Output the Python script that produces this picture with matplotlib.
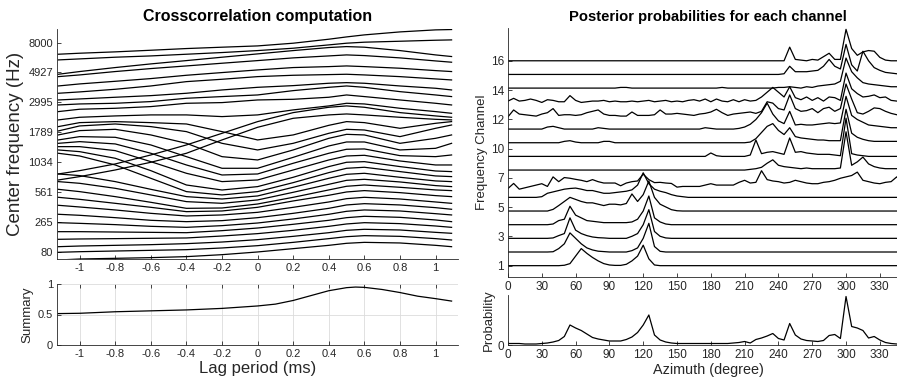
import numpy as np
import matplotlib.pyplot as plt

plt.rcParams['font.family'] = ['Liberation Sans', 'DejaVu Sans']

# ---- left panel: cross-correlation traces (channel units) ----
lags = [-1.12, -1.0, -0.8, -0.6, -0.4, -0.2, 0.0, 0.2, 0.4, 0.5, 0.6, 0.8, 1.0, 1.09]
xcorr_traces = [
    [-0.15, 0.00, 0.10, 0.20, 0.35, 0.64, 1.04, 1.53, 2.02, 2.32, 2.46, 2.37, 2.02, 1.82],
    [0.99, 1.08, 1.18, 1.28, 1.38, 1.63, 1.97, 2.46, 3.01, 3.30, 3.45, 3.35, 3.01, 2.81],
    [1.82, 1.92, 2.02, 2.12, 2.27, 2.51, 2.86, 3.35, 3.89, 4.24, 4.39, 4.29, 3.94, 3.80],
    [2.91, 2.96, 3.01, 3.06, 3.11, 3.40, 3.75, 4.24, 4.83, 5.18, 5.37, 5.23, 4.88, 4.68],
    [4.04, 4.04, 3.99, 3.94, 3.89, 4.19, 4.58, 5.13, 5.72, 6.11, 6.31, 6.16, 5.77, 5.52],
    [5.37, 5.27, 5.08, 4.83, 4.68, 4.93, 5.32, 5.92, 6.61, 7.05, 7.25, 7.10, 6.70, 6.51],
    [6.61, 6.46, 6.11, 5.72, 5.52, 5.67, 6.11, 6.75, 7.49, 7.99, 8.18, 7.99, 7.59, 7.35],
    [7.94, 7.69, 7.25, 6.75, 6.36, 6.51, 6.90, 7.64, 8.43, 8.92, 9.12, 8.87, 8.43, 8.23],
    [9.12, 8.82, 8.23, 7.64, 7.00, 7.10, 7.64, 8.58, 9.42, 9.91, 10.11, 9.81, 9.37, 9.22],
    [10.30, 9.96, 9.22, 8.38, 7.49, 7.54, 8.13, 9.12, 10.21, 10.75, 10.94, 10.60, 10.21, 10.11],
    [11.44, 11.19, 10.45, 9.47, 8.48, 8.23, 8.73, 9.86, 11.04, 11.63, 11.78, 11.39, 10.85, 10.70],
    [12.57, 12.33, 11.44, 10.30, 9.22, 8.87, 9.32, 10.60, 11.93, 12.52, 12.67, 12.08, 11.54, 11.44],
    [15.63, 15.23, 13.90, 11.93, 9.96, 9.47, 9.96, 11.29, 12.77, 13.41, 13.56, 12.92, 12.28, 12.18],
    [16.12, 15.87, 14.89, 13.06, 10.94, 10.20, 10.70, 12.08, 13.66, 14.30, 14.39, 13.66, 13.01, 12.92],
    [16.61, 16.61, 16.02, 14.39, 12.67, 11.44, 11.68, 13.16, 14.64, 15.23, 15.33, 14.49, 13.90, 13.90],
    [17.10, 17.35, 17.01, 15.63, 13.90, 12.42, 12.57, 14.15, 15.63, 16.22, 16.27, 15.28, 15.13, 15.38],
    [17.60, 18.09, 17.99, 16.86, 15.13, 13.41, 13.41, 15.03, 16.71, 17.30, 17.30, 16.12, 16.36, 17.10],
    [18.34, 18.98, 19.17, 18.34, 17.10, 15.13, 14.64, 16.12, 17.84, 18.43, 18.34, 17.10, 17.84, 18.34],
    [18.93, 19.67, 19.96, 19.57, 18.83, 17.10, 16.12, 17.10, 18.58, 19.17, 19.07, 18.09, 19.32, 19.81],
    [19.57, 20.16, 20.31, 20.16, 19.96, 18.83, 17.60, 18.34, 19.76, 20.31, 20.16, 19.32, 20.06, 20.31],
    [11.68, 12.18, 13.16, 14.30, 15.63, 17.60, 19.47, 20.80, 21.30, 21.44, 21.30, 20.95, 20.65, 20.56],
    [12.57, 13.06, 14.05, 15.38, 16.86, 18.58, 20.31, 21.64, 22.43, 22.63, 22.43, 21.64, 21.15, 20.95],
    [20.56, 20.95, 21.15, 21.30, 21.30, 21.05, 21.30, 22.04, 22.63, 23.02, 22.92, 22.28, 21.79, 21.54],
    [21.79, 22.14, 22.28, 22.53, 23.02, 23.12, 23.51, 23.61, 23.91, 24.25, 24.01, 23.51, 23.02, 22.77],
    [22.77, 22.92, 23.02, 23.27, 23.76, 24.01, 24.25, 24.89, 25.38, 25.58, 25.38, 24.74, 24.25, 24.01],
    [23.51, 23.66, 23.91, 24.15, 24.50, 24.99, 25.38, 25.63, 25.98, 26.07, 25.98, 25.58, 25.24, 24.99],
    [24.50, 24.70, 25.09, 25.58, 26.22, 26.57, 26.96, 27.16, 27.26, 27.31, 27.21, 26.96, 26.62, 26.47],
    [25.58, 25.88, 26.27, 26.67, 27.16, 27.56, 27.95, 28.30, 28.44, 28.54, 28.44, 28.20, 27.85, 27.71],
    [26.96, 27.21, 27.71, 28.15, 28.54, 28.94, 29.33, 29.73, 30.02, 30.17, 30.07, 29.73, 29.28, 29.09],
    [27.31, 27.71, 28.30, 28.84, 29.33, 29.83, 30.32, 30.81, 31.26, 31.40, 31.31, 30.81, 30.17, 29.93],
    [29.43, 29.58, 29.83, 30.02, 30.27, 30.52, 30.81, 31.16, 31.65, 31.90, 32.05, 32.19, 32.34, 32.39],
    [30.27, 30.42, 30.62, 30.86, 31.11, 31.31, 31.50, 31.90, 32.49, 32.83, 33.13, 33.57, 33.87, 33.92],
]
center_freqs = [80, 265, 561, 1034, 1789, 2995, 4927, 8000]

summary_lags = [-1.12, -1.0, -0.8, -0.6, -0.4, -0.2, 0.0, 0.1, 0.2, 0.3, 0.4, 0.5, 0.55,
                0.6, 0.7, 0.8, 0.9, 1.0, 1.09]
summary_vals = [0.515, 0.52, 0.545, 0.56, 0.575, 0.6, 0.64, 0.67, 0.73, 0.81, 0.89, 0.94, 0.95,
                0.945, 0.91, 0.86, 0.8, 0.76, 0.72]

# ---- right panel: posterior per channel (sparse, deg -> height in channel units) ----
azimuth = np.arange(0, 360, 5)
posterior = [
    {50: 0.03, 55: 0.15, 60: 0.7, 65: 1.25, 70: 0.9, 75: 0.6, 80: 0.35, 85: 0.15, 90: 0.05,
     95: 0.02, 100: 0.02, 105: 0.1, 110: 0.35, 115: 0.7, 120: 1.5, 125: 0.5, 130: 0.05},
    {40: 0.02, 45: 0.25, 50: 0.6, 55: 1.4, 60: 1.0, 65: 0.6, 70: 0.3, 75: 0.15, 80: 0.06,
     85: 0.03, 110: 0.1, 115: 0.3, 120: 1.0, 125: 2.1, 130: 0.4, 135: 0.05},
    {40: 0.03, 45: 0.2, 50: 0.35, 55: 1.5, 60: 0.6, 65: 0.35, 70: 0.2, 75: 0.1, 80: 0.05,
     85: 0.03, 110: 0.15, 115: 0.35, 120: 1.0, 125: 2.1, 130: 0.5, 135: 0.15, 140: 0.03},
    {40: 0.05, 45: 0.3, 50: 0.4, 55: 1.35, 60: 0.7, 65: 0.5, 70: 0.3, 75: 0.25, 80: 0.2,
     85: 0.15, 90: 0.15, 95: 0.15, 100: 0.15, 105: 0.15, 110: 0.2, 115: 0.4, 120: 1.0,
     125: 2.1, 130: 0.5, 135: 0.2, 140: 0.05},
    {40: 0.12, 45: 0.4, 50: 0.7, 55: 1.0, 60: 0.85, 65: 0.7, 70: 0.6, 75: 0.6, 80: 0.5,
     85: 0.4, 90: 0.5, 95: 0.5, 100: 0.45, 105: 0.55, 110: 1.25, 115: 0.7, 120: 1.2, 125: 2.2,
     130: 1.0, 135: 0.5, 140: 0.3, 145: 0.1, 150: 0.02},
    {30: 0.05, 35: 0.3, 40: 0.4, 45: 0.5, 50: 0.6, 55: 0.65, 60: 0.68, 65: 0.6, 70: 0.5,
     75: 0.5, 80: 0.4, 85: 0.3, 90: 0.3, 95: 0.35, 100: 0.4, 105: 0.45, 110: 0.55, 115: 0.9,
     120: 1.8, 125: 1.0, 130: 0.6, 135: 0.45, 140: 0.35, 145: 0.2, 150: 0.1, 155: 0.05},
    {0: -0.35, 5: 0.02, 10: -0.4, 15: -0.3, 20: -0.2, 25: -0.1, 30: 0.0, 35: -0.2, 40: 0.5,
     45: 0.15, 50: 0.45, 55: 0.4, 60: 0.32, 65: 0.25, 70: 0.15, 75: 0.3, 80: 0.15, 85: 0.05,
     90: 0.05, 95: 0.05, 100: -0.15, 105: 0.05, 110: 0.15, 115: 0.2, 120: 0.7, 125: 0.3,
     130: 0.08, 135: 0.1, 140: 0.05, 145: 0.02, 150: -0.25, 155: -0.2, 160: -0.2, 165: -0.2,
     170: -0.2, 175: -0.1, 185: -0.1, 190: -0.1, 195: -0.1, 200: -0.1, 205: 0.1, 210: 0.25,
     215: 0.05, 220: 0.1, 225: 0.95, 230: 0.3, 235: 0.2, 240: 0.15, 245: 0.05, 250: 0.1,
     255: 0.25, 260: 0.15, 265: 0.05, 280: 0.1, 285: 0.15, 290: 0.25, 295: 0.4, 300: 0.5,
     305: 0.6, 310: 0.85, 315: 0.25, 320: 0.15, 325: 0.05, 335: 0.1, 340: 0.15, 345: 0.5},
    {215: 0.05, 220: 0.1, 225: 0.2, 230: 0.5, 235: 0.75, 240: 0.35, 245: 0.25, 250: 0.2,
     255: 0.15, 260: 0.1, 265: 0.15, 270: 0.1, 275: 0.1, 280: 0.1, 285: 0.1, 290: 0.1,
     295: 0.15, 300: 2.8, 305: 0.35, 310: 0.6, 315: 0.95, 320: 0.45, 325: 0.25, 330: 0.15,
     335: 0.1, 340: 0.1, 345: 0.1},
    {180: 0.25, 185: 0.05, 215: 0.1, 220: 1.2, 225: 0.2, 230: 0.3, 235: 0.35, 240: 0.25,
     245: 0.15, 250: 1.35, 255: 0.3, 260: 0.35, 265: 0.25, 270: 0.2, 275: 0.15, 280: 0.15,
     285: 0.15, 290: 0.1, 295: 0.05, 300: 2.8, 305: 0.2, 310: 0.1, 315: 0.05},
    {50: 0.1, 55: 0.15, 60: 0.05, 85: 0.1, 90: 0.1, 215: 0.05, 220: 0.3, 225: 0.75, 230: 1.2,
     235: 1.4, 240: 0.9, 245: 0.6, 250: 1.1, 255: 0.45, 260: 0.35, 265: 0.3, 270: 0.25,
     275: 0.2, 280: 0.2, 285: 0.15, 290: 0.15, 295: 0.15, 300: 2.45, 305: 0.7, 310: 0.4,
     315: 0.25, 320: 0.15, 325: 0.1, 330: 0.1, 335: 0.1, 340: 0.1, 345: 0.1},
    {35: 0.15, 40: 0.2, 45: 0.1, 80: 0.1, 85: 0.05, 175: 0.1, 180: 0.05, 205: 0.05, 210: 0.15,
     215: 0.35, 220: 0.7, 225: 1.2, 230: 1.9, 235: 1.1, 240: 0.6, 245: 0.4, 250: 1.3,
     255: 0.3, 260: 0.35, 265: 0.3, 270: 0.3, 275: 0.35, 280: 0.4, 285: 0.45, 290: 0.4,
     295: 0.45, 300: 2.4, 305: 1.0, 310: 0.7, 315: 0.5, 320: 0.3, 325: 0.25, 330: 0.2,
     335: 0.15, 340: 0.1, 345: 0.1},
    {0: -0.1, 5: 0.4, 10: 0.1, 15: 0.05, 25: -0.05, 30: 0.1, 35: 0.2, 40: 0.5, 50: 0.05,
     55: 0.05, 65: 0.05, 70: 0.2, 75: 0.3, 80: 0.4, 85: 0.1, 100: -0.05, 105: -0.05, 110: 0.25,
     130: 0.05, 135: 0.4, 140: 0.1, 145: 0.1, 150: 0.15, 155: 0.1, 160: 0.05, 170: 0.1,
     175: 0.15, 180: 0.25, 185: 0.45, 190: 0.2, 200: 0.1, 205: 0.15, 210: 0.2, 215: 0.25,
     220: 0.15, 225: 0.3, 230: 1.0, 235: 0.9, 240: 0.5, 245: 0.4, 250: 1.5, 255: 0.5,
     260: 0.3, 265: 0.35, 270: 0.5, 275: 0.2, 280: 0.5, 285: 0.6, 290: 0.3, 295: 0.5,
     300: 2.3, 305: 1.2, 310: 0.2, 315: 0.1, 320: 0.3, 325: 0.55, 330: 0.5, 335: 0.3,
     340: 0.15, 345: 0.05},
    {0: 0.05, 5: 0.25, 10: 0.05, 15: 0.1, 20: 0.2, 25: 0.1, 30: -0.05, 35: 0.15, 40: 0.1,
     55: 0.45, 60: 0.1, 65: -0.05, 75: 0.05, 80: 0.05, 85: 0.1, 95: 0.05, 110: 0.05,
     120: 0.05, 125: 0.1, 135: 0.05, 140: 0.1, 150: 0.05, 160: 0.1, 165: 0.15, 170: 0.05,
     175: 0.2, 185: 0.2, 190: 0.05, 200: 0.15, 210: 0.15, 215: 0.05, 220: 0.1, 225: 0.35,
     230: 0.7, 235: 1.05, 240: 0.7, 245: 0.35, 250: 1.1, 255: 0.3, 260: 0.15, 265: 0.35,
     270: 0.1, 275: 0.3, 280: 0.05, 285: 0.35, 290: 0.3, 295: 0.1, 300: 2.1, 305: 0.95,
     310: 0.6, 315: 0.35, 320: 0.4, 325: 0.5, 330: 0.3, 335: 0.35, 340: 0.1, 345: 0.05},
    {100: 0.05, 105: 0.05, 190: 0.05, 240: 0.05, 245: 0.05, 250: 0.1, 255: 0.05, 265: 0.1,
     270: 0.05, 275: 0.15, 280: 0.2, 285: 0.25, 290: 0.3, 295: 0.5, 300: 2.2, 305: 1.2,
     310: 0.75, 315: 0.4, 320: 0.3, 325: 0.25, 330: 0.2, 335: 0.15, 340: 0.1, 345: 0.1},
    {245: 0.05, 250: 0.6, 255: 0.2, 260: 0.2, 265: 0.2, 270: 0.25, 275: 0.3, 280: 0.6,
     285: 1.1, 290: 0.6, 295: 0.4, 300: 2.2, 305: 0.7, 310: 0.25, 315: 1.7, 320: 1.0,
     325: 0.5, 330: 0.3, 335: 0.15, 340: 0.1, 345: 0.05},
    {250: 1.0, 255: 0.1, 260: 0.05, 270: 0.1, 275: 0.05, 280: 0.3, 285: 0.55, 290: 0.1,
     295: 0.1, 300: 2.3, 305: 0.9, 310: 0.4, 315: 0.65, 320: 0.75, 325: 0.7, 330: 0.25,
     335: 0.05},
]
prob_total = [0.03, 0.03, 0.03, 0.02, 0.02, 0.02, 0.03, 0.04, 0.06, 0.09, 0.17, 0.4, 0.34,
              0.29, 0.22, 0.15, 0.12, 0.1, 0.08, 0.08, 0.08, 0.11, 0.16, 0.25, 0.4, 0.6, 0.2,
              0.1, 0.06, 0.04, 0.03, 0.03, 0.03, 0.03, 0.03, 0.03, 0.03, 0.03, 0.03, 0.03,
              0.04, 0.05, 0.07, 0.04, 0.11, 0.14, 0.18, 0.23, 0.13, 0.1, 0.43, 0.2, 0.12, 0.09,
              0.08, 0.07, 0.09, 0.19, 0.21, 0.13, 0.97, 0.37, 0.34, 0.29, 0.14, 0.17, 0.1,
              0.05, 0.03, 0.02, 0.02, 0.02]
channel_labels = [1, 3, 5, 7, 10, 12, 14, 16]

W, H = 897, 378
fig = plt.figure(figsize=(W / 100, H / 100), dpi=100)
txt = '#262626'


def style(ax):
    for s in ['top', 'right']:
        ax.spines[s].set_visible(False)
    for s in ['left', 'bottom']:
        ax.spines[s].set_color(txt)
        ax.spines[s].set_linewidth(0.6)
    ax.tick_params(direction='in', length=3, width=0.6, colors=txt, labelsize=8, pad=3)


def box(x0, y0, x1, y1):
    return [x0 / W, 1 - y1 / H, (x1 - x0) / W, (y1 - y0) / H]


# left top
ax1 = fig.add_axes(box(57.4, 29, 457.8, 259))
for tr in xcorr_traces:
    ax1.plot(lags, tr, color='k', lw=0.9)
ax1.set_xlim(-1.125, 1.125)
ax1.set_ylim(0, 34)
ax1.set_yticks(np.linspace(1, 32, 8))
ax1.set_yticklabels([str(f) for f in center_freqs])
ax1.set_xticks(np.round(np.arange(-1, 1.01, 0.2), 1))
ax1.set_xticklabels(['-1', '-0.8', '-0.6', '-0.4', '-0.2', '0', '0.2', '0.4', '0.6', '0.8', '1'])
ax1.set_ylabel('Center frequency (Hz)', fontsize=13.5, color=txt, labelpad=3)
ax1.set_title('Crosscorrelation computation', fontsize=11.5, fontweight='bold', pad=6)
style(ax1)

# left bottom
ax2 = fig.add_axes(box(57.4, 284, 457.8, 345))
ax2.plot(summary_lags, summary_vals, color='k', lw=0.9)
ax2.set_xlim(-1.125, 1.125)
ax2.set_ylim(0, 1)
ax2.set_yticks([0, 0.5, 1])
ax2.set_yticklabels(['0', '0.5', '1'])
ax2.set_xticks(np.round(np.arange(-1, 1.01, 0.2), 1))
ax2.set_xticklabels(['-1', '-0.8', '-0.6', '-0.4', '-0.2', '0', '0.2', '0.4', '0.6', '0.8', '1'])
ax2.grid(True, color='#dcdcdc', lw=0.6)
ax2.set_axisbelow(True)
ax2.set_ylabel('Summary', fontsize=9.5, color=txt, labelpad=3)
ax2.set_xlabel('Lag period (ms)', fontsize=12, color=txt, labelpad=1)
style(ax2)
ax2.tick_params(top=True)

# right top
ax3 = fig.add_axes(box(508, 28, 908, 277))
for k, post in enumerate(posterior, start=1):
    vals = np.array([post.get(a, 0.0) for a in azimuth])
    ax3.plot(azimuth, k + vals, color='k', lw=0.9)
ax3.set_xlim(0, 355)
ax3.set_ylim(0.17, 18.4)
ax3.set_yticks(np.linspace(1, 16, 8))
ax3.set_yticklabels([str(c) for c in channel_labels])
ax3.set_xticks(np.arange(0, 331, 30))
ax3.set_ylabel('Frequency Channel', fontsize=9.5, color=txt, labelpad=2)
ax3.set_title('Posterior probabilities for each channel', fontsize=10.6, fontweight='bold', pad=5)
style(ax3)
ax3.tick_params(labelsize=8.5)

# right bottom
ax4 = fig.add_axes(box(508, 295, 908, 345))
ax4.plot(azimuth, prob_total, color='k', lw=0.9)
ax4.set_xlim(0, 355)
ax4.set_ylim(0, 1)
ax4.set_yticks([0])
ax4.set_xticks(np.arange(0, 331, 30))
ax4.set_ylabel('Probability', fontsize=9.5, color=txt, labelpad=2)
ax4.set_xlabel('Azimuth (degree)', fontsize=10.4, color=txt, labelpad=1)
style(ax4)
ax4.tick_params(labelsize=8.5)

fig.savefig('out.png', dpi=100)
